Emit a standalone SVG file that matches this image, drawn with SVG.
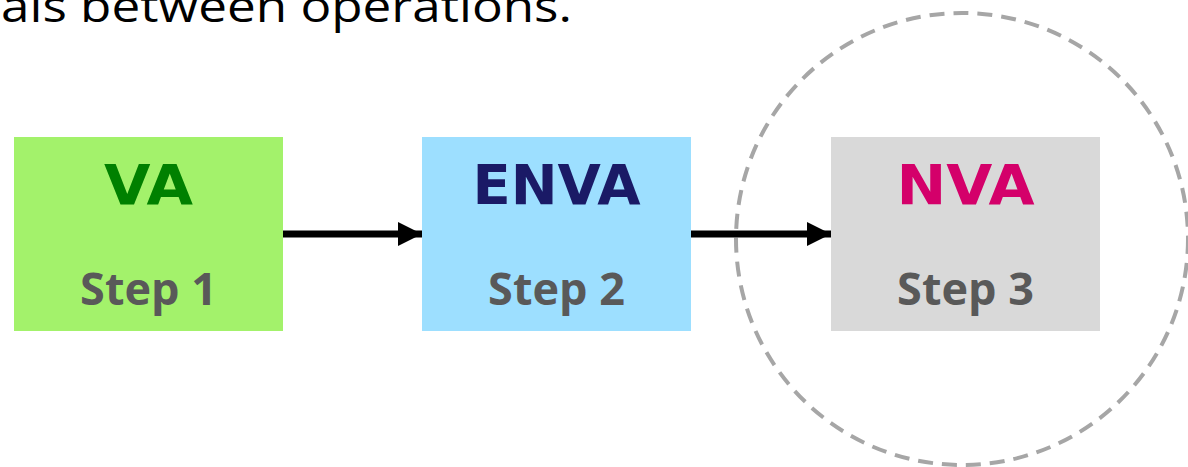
<svg xmlns="http://www.w3.org/2000/svg" width="1188" height="467" viewBox="0 0 1188 467">
<style>
.box{stroke:none}
.lbl{font-family:"DejaVu Sans",Verdana,sans-serif;font-weight:bold;font-size:56px;text-anchor:middle}
.step{font-family:"Open Sans","Liberation Sans",sans-serif;font-weight:bold;font-size:45px;fill:#595959;text-anchor:middle}
.conn{stroke:#000;stroke-width:7;fill:none}
</style>
<defs>
<marker id="ah" markerUnits="userSpaceOnUse" markerWidth="24" markerHeight="24" refX="24" refY="12" orient="auto">
<path d="M0,0 L24,12 L0,24 Z" fill="#000"/>
</marker>
</defs>
<rect width="1188" height="467" fill="#fff"/>
<text x="1" y="22" font-family="Open Sans,Liberation Sans,sans-serif" font-size="44" fill="#000" textLength="571" lengthAdjust="spacingAndGlyphs">als between operations.</text>
<circle cx="962" cy="239" r="226" fill="none" stroke="#a6a6a6" stroke-width="4" stroke-dasharray="15 9"/>
<g id="connectors">
<line class="conn" x1="283" y1="234" x2="422" y2="234" marker-end="url(#ah)"/>
<line class="conn" x1="691" y1="234" x2="831" y2="234" marker-end="url(#ah)"/>
</g>
<g id="node-va">
<rect class="box" x="14" y="137" width="269" height="194" fill="#a3f26b"/>
<text class="lbl" x="148.5" y="204" fill="#008000" textLength="89" lengthAdjust="spacingAndGlyphs">VA</text>
<text class="step" x="148.5" y="305">Step 1</text>
</g>
<g id="node-enva">
<rect class="box" x="422" y="137" width="269" height="194" fill="#9ddfff"/>
<text class="lbl" x="556.5" y="204" fill="#1a1a66" textLength="168" lengthAdjust="spacingAndGlyphs">ENVA</text>
<text class="step" x="556.5" y="305">Step 2</text>
</g>
<g id="node-nva">
<rect class="box" x="831" y="137" width="269" height="194" fill="#d9d9d9"/>
<text class="lbl" x="965.5" y="204" fill="#d4006a" textLength="138" lengthAdjust="spacingAndGlyphs">NVA</text>
<text class="step" x="965.5" y="305">Step 3</text>
</g>
</svg>
